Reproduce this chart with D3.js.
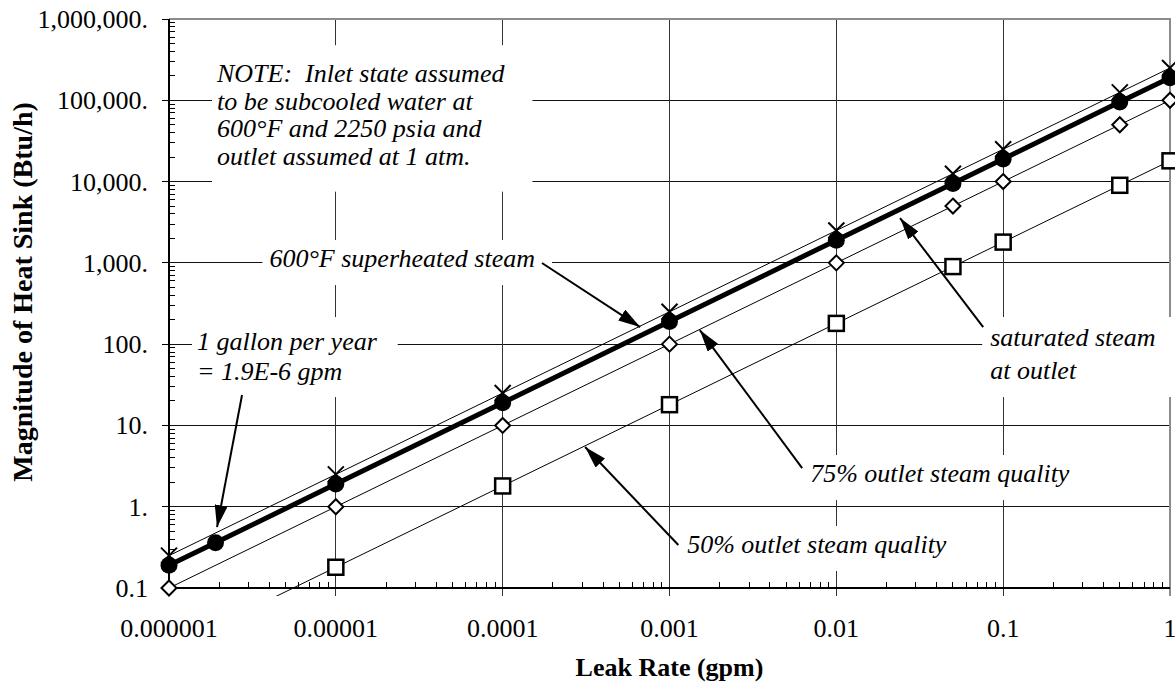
<!DOCTYPE html>
<html>
<head>
<meta charset="utf-8">
<script src="https://cdn.jsdelivr.net/npm/d3@7"></script>
<style>
  body { margin: 0; background: #fff; }
  text { font-family: "Liberation Serif", "Times New Roman", serif; font-size: 26px; fill: #000; }
</style>
</head>
<body>
<div id="chart"></div>
<script>
// leak rates (gpm)
const leakRate = [0.000001, 0.00001, 0.0001, 0.001, 0.01, 0.05, 0.1, 0.5, 1];
const leakRateSat = [0.000001, 0.0000019, 0.00001, 0.0001, 0.001, 0.01, 0.05, 0.1, 0.5, 1];
const leakRate50 = [0.000001, 0.00001, 0.0001, 0.001, 0.01, 0.05, 0.1, 0.5, 1];

// heat sink (Btu/h)
const superheated600 = [0.25, 2.5, 25, 250, 2500, 12500, 25000, 125000, 250000];
const saturatedOutlet = [0.19, 0.36, 1.9, 19, 190, 1900, 9500, 19000, 95000, 190000];
const quality75 = [0.1, 1, 10, 100, 1000, 5000, 10000, 50000, 100000];
const quality50 = [0.018, 0.18, 1.8, 18, 180, 900, 1800, 9000, 18000];

const xTicks = [0.000001, 0.00001, 0.0001, 0.001, 0.01, 0.1, 1];
const xTickLabels = ["0.000001", "0.00001", "0.0001", "0.001", "0.01", "0.1", "1"];
const yTicks = [0.1, 1, 10, 100, 1000, 10000, 100000, 1000000];
const yTickLabels = ["0.1", "1.", "10.", "100.", "1,000.", "10,000.", "100,000.", "1,000,000."];

const W = 1175, H = 689;
const svg = d3.select("#chart").append("svg")
  .attr("width", W)
  .attr("height", H);
svg.append("rect").attr("width", W).attr("height", H).attr("fill", "#fff");

const x = d3.scaleLog().domain([0.000001, 1]).range([169, 1170]);
const y = d3.scaleLog().domain([0.1, 1000000]).range([588, 19]);
const [x0, x1] = x.range();
const [y0, y1] = y.range();

svg.append("defs").append("clipPath").attr("id", "plotclip")
  .append("rect").attr("x", x0).attr("y", y1).attr("width", x1 - x0).attr("height", y0 - y1 + 8);

svg.append("defs").append("marker")
  .attr("id", "head")
  .attr("viewBox", "0 0 22 13")
  .attr("refX", 22).attr("refY", 6.5)
  .attr("markerWidth", 22).attr("markerHeight", 13)
  .attr("markerUnits", "userSpaceOnUse")
  .attr("orient", "auto")
  .append("path").attr("d", "M0,0 L22,6.5 L0,13 Z").attr("fill", "#000");

// gridlines
const grid = svg.append("g").attr("shape-rendering", "crispEdges");
grid.selectAll(".hg").data(yTicks.slice(1, -1)).join("line")
  .attr("x1", x0).attr("x2", x1)
  .attr("y1", d => y(d)).attr("y2", d => y(d))
  .attr("stroke", "#111").attr("stroke-width", 1);
grid.selectAll(".vg").data(xTicks.slice(1, -1)).join("line")
  .attr("x1", d => x(d)).attr("x2", d => x(d))
  .attr("y1", y1).attr("y2", y0 + 8)
  .attr("stroke", "#333").attr("stroke-width", 1);

// gray frame top / right
grid.append("line").attr("x1", x0).attr("x2", x1 + 1).attr("y1", y1).attr("y2", y1)
  .attr("stroke", "#8c8c8c").attr("stroke-width", 2);
grid.append("line").attr("x1", x1).attr("x2", x1).attr("y1", y1).attr("y2", y0 + 8)
  .attr("stroke", "#8c8c8c").attr("stroke-width", 2);

// minor ticks
const minors = [2, 3, 4, 5, 6, 7, 8, 9];
const xMinor = xTicks.slice(0, -1).flatMap(d => minors.map(m => d * m));
const yMinor = yTicks.slice(0, -1).flatMap(d => minors.map(m => d * m));
grid.selectAll(".xm").data(xMinor).join("line")
  .attr("x1", d => x(d)).attr("x2", d => x(d))
  .attr("y1", y0).attr("y2", y0 - 6)
  .attr("stroke", "#000");
grid.selectAll(".ym").data(yMinor).join("line")
  .attr("x1", x0).attr("x2", x0 + 6)
  .attr("y1", d => y(d)).attr("y2", d => y(d))
  .attr("stroke", "#000");
grid.selectAll(".yM").data(yTicks).join("line")
  .attr("x1", x0 - 7).attr("x2", x0)
  .attr("y1", d => y(d)).attr("y2", d => y(d))
  .attr("stroke", "#000");

// axes
grid.append("line").attr("x1", x0 - 7).attr("x2", x1).attr("y1", y0).attr("y2", y0)
  .attr("stroke", "#000").attr("stroke-width", 1.5);
grid.append("line").attr("x1", x0).attr("x2", x0).attr("y1", y1).attr("y2", y0 + 8)
  .attr("stroke", "#000").attr("stroke-width", 1.5);

// tick labels
svg.append("g").selectAll("text").data(yTicks).join("text")
  .attr("x", x0 - 21).attr("y", d => y(d) + 9)
  .attr("text-anchor", "end")
  .text((d, i) => yTickLabels[i]);
svg.append("g").selectAll("text").data(xTicks).join("text")
  .attr("x", d => x(d)).attr("y", y0 + 49)
  .attr("text-anchor", "middle")
  .text((d, i) => xTickLabels[i]);

// axis titles
svg.append("text")
  .attr("x", (x0 + x1) / 2).attr("y", 676)
  .attr("text-anchor", "middle").attr("font-weight", "bold")
  .text("Leak Rate (gpm)");
svg.append("text")
  .attr("transform", "translate(32,292) rotate(-90)")
  .attr("text-anchor", "middle").attr("font-weight", "bold")
  .style("font-size", "28px")
  .text("Magnitude of Heat Sink (Btu/h)");

// annotation labels with white boxes
const notes = [
  { lines: ["NOTE:  Inlet state assumed", "to be subcooled water at", "600°F and 2250 psia and", "outlet assumed at 1 atm."],
    gx: 0.00000194, gy: 167000, anchor: "start", lh: 27.5, pad: [14, 27, 21, 4] },
  { lines: ["600°F superheated steam"], gx: 0.0001563, gy: 888, anchor: "end", lh: 30, pad: [4, 17, 12, 7] },
  { lines: ["1 gallon per year", "= 1.9E-6 gpm"], gx: 0.000001472, gy: 84.6, anchor: "start", lh: 30, pad: [10, 20, 11, 5] },
  { lines: ["saturated steam", "at outlet"], gx: 0.0836, gy: 94.8, anchor: "start", lh: 33, pad: [6, 20, 12, 8] },
  { lines: ["75% outlet steam quality"], gx: 0.00697, gy: 2.01, anchor: "start", lh: 30, pad: [4, 17, 12, 5] },
  { lines: ["50% outlet steam quality"], gx: 0.001276, gy: 0.2695, anchor: "start", lh: 30, pad: [4, 17, 12, 5] }
];

const boxLayer = svg.append("g");
const textLayer = svg.append("g");

notes.forEach(n => {
  const t = textLayer.append("text")
    .attr("font-style", "italic")
    .attr("text-anchor", n.anchor)
    .attr("xml:space", "preserve")
    .style("white-space", "pre");
  n.lines.forEach((ln, i) => {
    t.append("tspan").attr("x", x(n.gx)).attr("y", y(n.gy) + i * n.lh).text(ln);
  });
  const b = t.node().getBBox();
  boxLayer.append("rect")
    .attr("x", b.x - n.pad[3]).attr("y", b.y - n.pad[0])
    .attr("width", b.width + n.pad[3] + n.pad[1])
    .attr("height", b.height + n.pad[0] + n.pad[2])
    .attr("fill", "#fff");
});

// data series
const series = [
  { xs: leakRate, ys: superheated600, width: 1, marker: "x" },
  { xs: leakRateSat, ys: saturatedOutlet, width: 5, marker: "circle" },
  { xs: leakRate, ys: quality75, width: 1, marker: "diamond" },
  { xs: leakRate50, ys: quality50, width: 1, marker: "square" }
];

const line = d3.line().x(d => x(d[0])).y(d => y(d[1]));
const plot = svg.append("g");

series.forEach(s => {
  const pts = s.xs.map((v, i) => [v, s.ys[i]]);
  plot.append("path")
    .datum(pts)
    .attr("clip-path", "url(#plotclip)")
    .attr("fill", "none")
    .attr("stroke", "#000")
    .attr("stroke-width", s.width)
    .attr("d", line);

  const inside = pts.filter(p => p[1] >= 0.1);
  const g = plot.append("g");
  if (s.marker === "circle") {
    g.selectAll("circle").data(inside).join("circle")
      .attr("cx", d => x(d[0])).attr("cy", d => y(d[1]))
      .attr("r", 8.5).attr("fill", "#000");
  } else if (s.marker === "diamond") {
    g.selectAll("path").data(inside).join("path")
      .attr("transform", d => "translate(" + x(d[0]) + "," + y(d[1]) + ")")
      .attr("d", "M0,-7.5 L7.5,0 L0,7.5 L-7.5,0 Z")
      .attr("fill", "#fff").attr("stroke", "#000").attr("stroke-width", 2);
  } else if (s.marker === "square") {
    g.selectAll("rect").data(inside).join("rect")
      .attr("x", d => x(d[0]) - 7.5).attr("y", d => y(d[1]) - 7.5)
      .attr("width", 15).attr("height", 15)
      .attr("fill", "#fff").attr("stroke", "#000").attr("stroke-width", 2.5);
  } else {
    g.selectAll("path").data(inside).join("path")
      .attr("transform", d => "translate(" + x(d[0]) + "," + y(d[1]) + ")")
      .attr("d", "M-8,-8 L8,8 M8,-8 L-8,8")
      .attr("fill", "none").attr("stroke", "#000").attr("stroke-width", 2);
  }
});

// arrows: [from gpm, from Btu/h, to gpm, to Btu/h]
const arrows = [
  [0.000172, 995, 0.000667, 162],
  [0.00000274, 23.7, 0.00000194, 0.56],
  [0.0759, 162, 0.0241, 3560],
  [0.00624, 2.99, 0.00152, 149],
  [0.00113, 0.338, 0.000312, 5.42]
];
svg.append("g").selectAll("line").data(arrows).join("line")
  .attr("x1", d => x(d[0])).attr("y1", d => y(d[1]))
  .attr("x2", d => x(d[2])).attr("y2", d => y(d[3]))
  .attr("stroke", "#000").attr("stroke-width", 2)
  .attr("marker-end", "url(#head)");

svg.node().appendChild(textLayer.node());
</script>
</body>
</html>
